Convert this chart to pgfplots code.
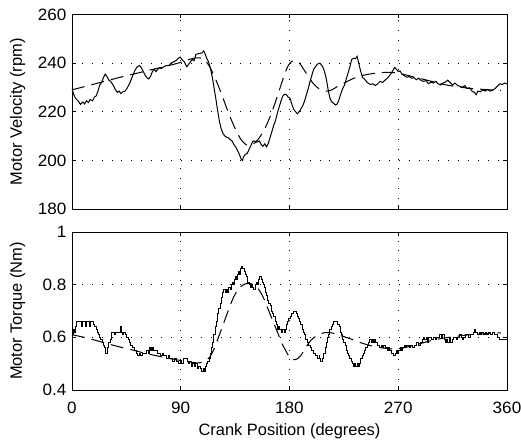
\documentclass[border=0pt]{standalone}
\usepackage{fontspec}
\setmainfont{Liberation Sans}
\newfontfamily\tickfont{Liberation Sans}[FakeStretch=1.04]
\usepackage{pgfplots}
\pgfplotsset{compat=1.18}
\begin{document}
\fontsize{16.5}{19}\selectfont
\begin{tikzpicture}
\pgfplotsset{
 every axis/.append style={
  scale only axis, width=435bp, xmin=0, xmax=360,
  xtick={0,90,180,270,360}, grid=major,
  major grid style={black, line width=0.6bp, dash pattern=on 0.9bp off 9bp},
  tick align=inside, major tick length=4bp,
  axis line style={line width=0.9bp},
  every tick/.style={line width=0.6bp, black},
  /pgf/number format/assume math mode=true,
  ticklabel style={font=\tickfont\fontsize{16.5}{19}\selectfont},
  label style={font=\fontsize{16.5}{19}\selectfont},
 }
}
\useasboundingbox (-72bp,-51bp) rectangle (449bp,390bp);
% ---------------- Top: velocity ----------------
\begin{axis}[at={(0,181bp)}, anchor=south west, height=194.5bp,
  ymin=180, ymax=260, ytick={180,200,220,240,260}, xticklabels={},
  ylabel={Motor Velocity (rpm)},
  ylabel style={at={(axis description cs:-0.107,0.5)}, anchor=south, inner sep=0pt},
]
\addplot[black, line width=1bp] coordinates {
(0,229.5)(1.5,227)(3,225.5)(5,224.5)(7,223)(9,224)(10.5,223.2)(12,224.5)(13.5,223.8)(15,225)(17,224.5)(18.5,226)(20,226.5)(21.5,228.5)(23,231)(24.5,232)(26,234)(27.5,235.5)(29,234.5)(30.5,233)(32,232.5)(34,231)(36,229)(37.5,228)(39,228.5)(40.5,227.5)(42,228.2)(44,228.5)(46,230)(48,232)(50,234.5)(52,237)(54,238.5)(56,239)(57.5,238)(59,236.5)(60.5,235)(62,234)(63.5,233.5)(65,234.5)(66.5,236.5)(68,237.5)(69.5,236.5)(71,237.5)(72.5,238)(74,237.8)(76,238.5)(78,239)(80,239)(82,240)(84,240.5)(86,241)(88,242)(89.5,242.5)(91,241.5)(93,240.5)(95,238.5)(96.5,239.5)(98,240.5)(99.5,241.5)(101,241)(102.5,243.5)(104,243.8)(106,244)(107.5,244.2)(109,245)(110,244)(111.5,242)(113,240.5)(114.5,238)(116,234.5)(117.5,230)(119,225.5)(120.5,220.5)(122,216)(123.5,213)(125,211)(126.5,210)(128,209.5)(129.5,209.3)(131,208.5)(132.5,208)(134,206.5)(135.5,205.5)(137,204)(138.5,202.5)(140,200.5)(141,200)(142,201.5)(143.5,202.5)(145,202.8)(146.5,204.5)(148,206)(149.5,207.8)(151,208)(153,207.5)(155,208)(156.5,206.5)(158,205.8)(159.5,206.8)(161,205.5)(162.5,207)(164,209.5)(165.5,212)(167,214.5)(168.5,216.5)(170,219.5)(171.5,222)(173,224.5)(174.5,226.5)(176,227.2)(177.5,227)(179,226)(180.5,225.5)(182,223)(183.5,221)(185,220)(186.5,219.2)(188,220)(189.5,221.2)(191,222.5)(192.5,224.5)(194,227)(195.5,229.5)(197,232.5)(198.5,235)(200,237.5)(201.5,238.5)(203,239.5)(204.5,240)(206,239.5)(207.5,238.5)(209,236.5)(210.5,233.5)(212,229)(213.5,225.5)(215,224)(216.5,223.5)(218,222.8)(219.5,223.2)(221,225)(222.5,227.5)(224,229.5)(225.5,231)(227,233.5)(228.5,236)(230,238.5)(231.5,241.5)(233,242)(234.5,241.8)(236,242.8)(237.5,239.5)(239,236.5)(240.5,234)(242,233.5)(243.5,232.5)(245,231.8)(247,231.2)(249,231.5)(251,230.8)(253,231.5)(255,232.5)(257,232)(259,233)(261,233.8)(263,235)(265,236.5)(267,238.2)(268.5,237.5)(270,236.5)(271.5,236.8)(273,235.5)(275,234.8)(277,234.2)(279,234.5)(281,233.8)(283,234)(285,233.2)(287,233.8)(289,232.8)(291,232.5)(293,232.8)(295,231.5)(297,232.2)(299,231.8)(301,232.5)(303,231.5)(305,231)(307,231.8)(309,232.2)(311,233)(313,232)(315,231)(317,231.8)(319,230.8)(321,230.5)(323,230)(325,230.8)(327,229.5)(329,229.8)(331,228.5)(333,228)(334.5,227)(336,228.5)(338,228.2)(340,229)(342,228.5)(344,229.2)(346,228.5)(348,228.8)(350,229.5)(352,230.5)(354,231.5)(356,231.2)(358,231.8)(360,231.5)
};
\addplot[black, line width=1bp, dash pattern=on 13bp off 7bp, smooth] coordinates {
(0,229)(10,230.3)(20,231.6)(30,232.9)(40,234.2)(50,235.4)(60,236.6)(70,237.8)(80,239)(90,240.3)(97,241.5)(103,242.2)(108,241.8)(112,240)(116,236.5)(120,232)(124,227)(128,221.5)(132,216.5)(136,212)(140,208.5)(144,206.5)(148,206.3)(152,207.5)(156,210)(160,213.5)(164,218)(168,223.5)(172,229.5)(176,235.5)(179,239)(182,240.8)(185,241)(188,240.2)(191,238)(195,235)(199,232)(203,230)(207,228.7)(211,228.5)(215,229)(220,230.5)(226,232)(232,233.5)(238,234.6)(245,235.4)(252,235.9)(260,236.2)(268,236)(275,235.3)(283,234.3)(292,233.2)(300,232.2)(310,231)(320,230.2)(330,229.6)(340,229.2)(350,228.9)(355,228.8)
};
\end{axis}
% ---------------- Bottom: torque ----------------
\begin{axis}[at={(0,0)}, anchor=south west, height=158bp,
  ymin=0.4, ymax=1, ytick={0.4,0.6,0.8,1},
  yticklabels={0.4,0.6,0.8,1},
  xticklabel style={anchor=base, yshift=-23bp},
  xlabel={Crank Position (degrees)},
  xlabel style={at={(axis description cs:0.5,-0.291)}, anchor=base, inner sep=0pt},
  ylabel={Motor Torque (Nm)},
  ylabel style={at={(axis description cs:-0.107,0.5)}, anchor=south, inner sep=0pt},
]
\addplot[black, line width=1bp, const plot] coordinates {
(0,0.61)(1,0.63)(2,0.62)(3,0.64)(4,0.66)(8,0.64)(8.8,0.66)(11.5,0.64)(12.3,0.66)(14.5,0.64)(15.3,0.66)(18,0.65)(19,0.64)(20,0.63)(21,0.62)(22,0.61)(23,0.60)(24,0.59)(25,0.58)(26,0.57)(27,0.56)(28,0.54)(29,0.56)(29.8,0.57)(30.6,0.58)(31.5,0.59)(32.3,0.60)(33,0.62)(35,0.61)(36,0.62)(40.5,0.64)(41.3,0.62)(42,0.61)(42.8,0.62)(44.5,0.61)(45.5,0.60)(46.5,0.59)(47.5,0.58)(48.5,0.57)(50,0.56)(51.5,0.55)(53,0.54)(54.5,0.53)(55.5,0.54)(56.5,0.53)(58,0.54)(60,0.54)(61.5,0.55)(63,0.54)(64,0.56)(64.7,0.55)(65.4,0.56)(66,0.55)(66.7,0.56)(67.5,0.55)(69,0.55)(70.5,0.54)(72,0.54)(73,0.53)(75,0.54)(76,0.53)(78,0.52)(80,0.53)(81,0.52)(83,0.51)(85,0.52)(86.5,0.51)(88.5,0.50)(90,0.51)(91,0.50)(92.5,0.52)(95.5,0.51)(96.5,0.50)(97.5,0.51)(98.5,0.49)(99.5,0.50)(101,0.49)(102.5,0.50)(103.5,0.48)(105,0.49)(106,0.48)(107,0.47)(108.5,0.48)(109.5,0.47)(110.5,0.49)(111.5,0.50)(112.5,0.51)(113.5,0.52)(114.5,0.54)(115.5,0.56)(116.5,0.58)(117.5,0.61)(118.5,0.64)(119.5,0.66)(120.5,0.69)(121.5,0.71)(122.5,0.73)(123.5,0.75)(124.5,0.77)(125.5,0.78)(127,0.77)(127.8,0.78)(129,0.77)(129.8,0.79)(131,0.78)(131.8,0.80)(132.5,0.81)(133.5,0.80)(134.5,0.82)(135.5,0.83)(136.5,0.82)(137,0.84)(138,0.85)(138.8,0.84)(139.5,0.86)(140.5,0.87)(141.5,0.86)(142.5,0.85)(143.5,0.84)(144.5,0.83)(145.5,0.81)(146.5,0.80)(147.5,0.79)(148.5,0.80)(149.5,0.79)(150.5,0.78)(151.5,0.80)(152.5,0.81)(153.5,0.80)(154.5,0.82)(155.5,0.83)(156.5,0.82)(157.5,0.81)(158.5,0.80)(159,0.79)(160,0.77)(161,0.76)(162,0.74)(163,0.73)(164,0.72)(165,0.70)(166,0.69)(167,0.68)(168,0.66)(169,0.65)(170,0.63)(171,0.64)(172,0.63)(173,0.62)(174,0.63)(175.5,0.62)(176.5,0.63)(177.5,0.65)(178.5,0.66)(179.5,0.67)(180.5,0.68)(182,0.69)(183.5,0.70)(185.5,0.69)(186.5,0.68)(187.5,0.67)(188.5,0.66)(189.5,0.65)(190.5,0.63)(191.5,0.62)(192.5,0.61)(193.5,0.59)(194.5,0.58)(195.5,0.57)(197,0.56)(198.5,0.55)(200,0.54)(201.5,0.53)(203,0.52)(204.5,0.53)(205,0.52)(205.5,0.51)(207.5,0.52)(208.5,0.54)(209.5,0.56)(210.5,0.58)(211.5,0.60)(212.5,0.61)(213.5,0.63)(214.5,0.64)(215.5,0.65)(216.5,0.66)(220,0.65)(221,0.64)(222,0.62)(223,0.61)(224,0.59)(225,0.58)(226,0.57)(227,0.55)(228,0.54)(229,0.53)(230,0.52)(231,0.51)(232,0.50)(233,0.49)(234,0.50)(234.7,0.49)(236,0.50)(236.8,0.49)(238,0.50)(239,0.52)(240,0.53)(241,0.54)(242,0.55)(243,0.56)(244.5,0.57)(245.5,0.58)(246.5,0.59)(247.5,0.58)(248.5,0.59)(249.5,0.58)(250.5,0.59)(251.5,0.58)(253,0.57)(254.5,0.56)(256,0.57)(257,0.56)(258,0.57)(259.5,0.56)(261,0.55)(262,0.56)(263,0.55)(264.5,0.54)(266,0.53)(267.5,0.54)(268.5,0.55)(269.5,0.54)(270.5,0.55)(271.5,0.56)(272.5,0.55)(273.5,0.56)(275,0.57)(276,0.56)(277,0.57)(279,0.56)(280,0.57)(282,0.56)(283.5,0.57)(285,0.58)(287,0.57)(288,0.58)(290,0.59)(291,0.60)(292,0.59)(293,0.60)(294,0.58)(295,0.60)(297.5,0.59)(299,0.60)(300.5,0.59)(302,0.60)(304,0.61)(306,0.60)(307,0.61)(308,0.59)(309,0.58)(310,0.59)(311,0.58)(312,0.60)(313,0.58)(314.5,0.59)(316,0.60)(318,0.59)(319,0.60)(321,0.61)(322,0.60)(323,0.59)(324,0.60)(326,0.61)(328,0.60)(330,0.61)(332,0.62)(333,0.63)(334,0.62)(335.5,0.61)(337,0.62)(338,0.61)(339,0.62)(340.5,0.61)(342,0.62)(343,0.61)(344.5,0.62)(346,0.61)(348,0.62)(350,0.61)(352,0.60)(353.5,0.59)(360,0.59)
};
\addplot[black, line width=1bp, dash pattern=on 13bp off 7bp, smooth] coordinates {
(0,0.61)(10,0.60)(20,0.588)(30,0.575)(40,0.563)(50,0.552)(60,0.54)(70,0.53)(80,0.52)(90,0.512)(100,0.505)(105,0.503)(110,0.51)(114,0.525)(118,0.56)(122,0.61)(126,0.66)(130,0.71)(134,0.755)(138,0.785)(142,0.80)(146,0.805)(150,0.80)(154,0.785)(158,0.755)(162,0.71)(166,0.665)(170,0.62)(174,0.575)(178,0.54)(181,0.52)(184,0.515)(187,0.52)(190,0.535)(194,0.565)(198,0.59)(202,0.605)(206,0.614)(210,0.618)(215,0.617)(220,0.61)(230,0.595)(240,0.578)(250,0.565)(260,0.558)(268,0.556)(276,0.562)(285,0.572)(295,0.585)(305,0.595)(315,0.602)(325,0.608)(335,0.612)(345,0.615)(355,0.617)
};
\end{axis}
\end{tikzpicture}
\end{document}
